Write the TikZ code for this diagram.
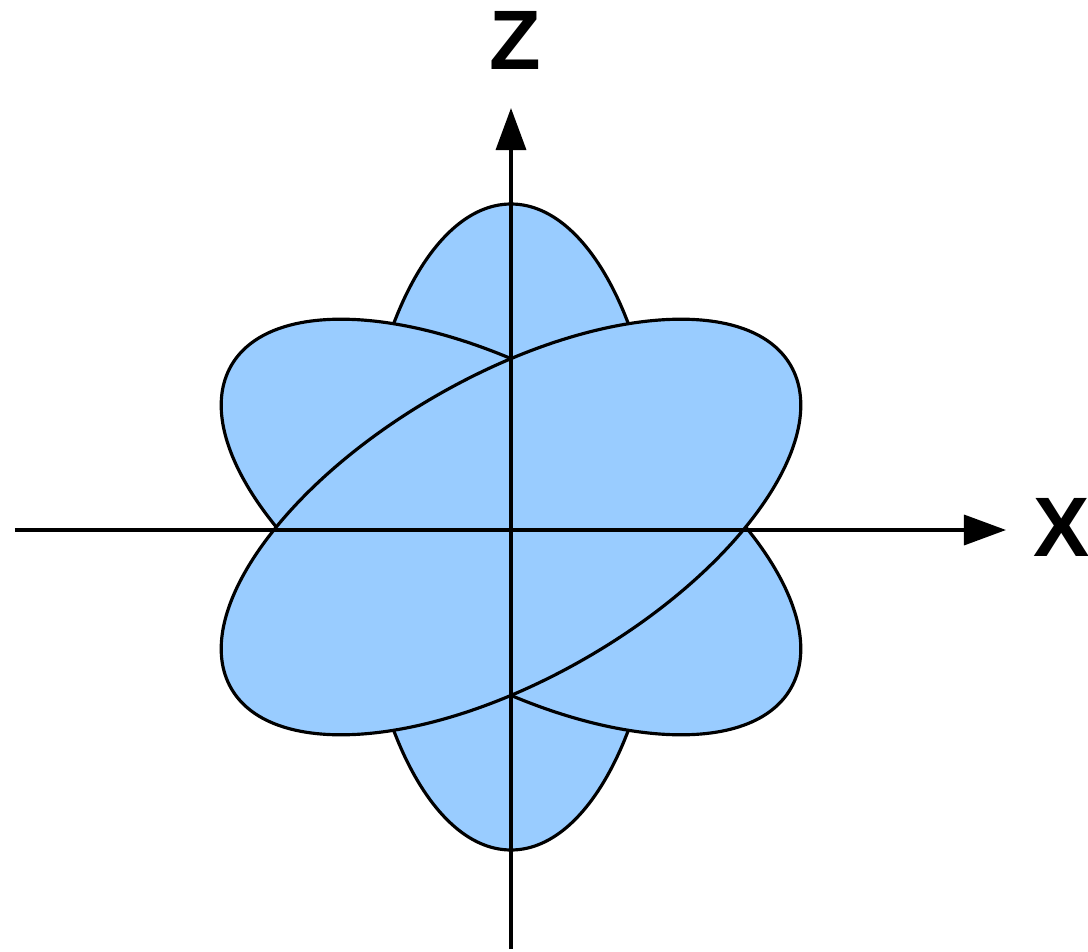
\documentclass[tikz,border=0pt]{standalone}
\usepackage{fontspec}
\setmainfont{Liberation Sans}
\usepackage{tikz}
\usetikzlibrary{positioning, arrows.meta}
\definecolor{lobeblue}{HTML}{99CCFF}
\newcommand{\lobeminor}{151}
\newcommand{\lobemajor}{323}
\newcommand{\lobetilt}{60}
\tikzset{
  % --- shapes ---
  lobe/.style      = {draw=black, fill=lobeblue, line width=0.9pt},
  % --- axes ---
  axis/.style      = {-{Triangle[length=0.42cm, width=0.30cm]},
                      line width=1.0pt, black},
  axislabel/.style = {font=\fontsize{24}{24}\selectfont\bfseries, inner sep=0pt},
}

\begin{document}
\begin{tikzpicture}[x=0.01cm, y=0.01cm]

  \useasboundingbox (-511,-424) rectangle (577,527);

  % ===================================================================
  %  LOBES  (back to front)
  % ===================================================================
  \coordinate (origin) at (0,0);
  \draw[lobe] (origin) ellipse [x radius=\lobeminor, y radius=\lobemajor];
  \draw[lobe, rotate=\lobetilt] (origin) ellipse [x radius=\lobeminor, y radius=\lobemajor];
  \draw[lobe, rotate=-\lobetilt] (origin) ellipse [x radius=\lobeminor, y radius=\lobemajor];

  % ===================================================================
  %  AXES
  % ===================================================================
  \coordinate (xstart) at (-496,-3);
  \coordinate (xend)   at ( 495,-3);
  \coordinate (zstart) at (0,-422);
  \coordinate (zend)   at (0, 419);

  \draw[axis] (xstart) -- (xend);
  \draw[axis] (zstart) -- (zend);

  \node[axislabel] (xlabel) at (551,0)  {X};
  \node[axislabel] (zlabel) at (4,487) {Z};

\end{tikzpicture}
\end{document}
